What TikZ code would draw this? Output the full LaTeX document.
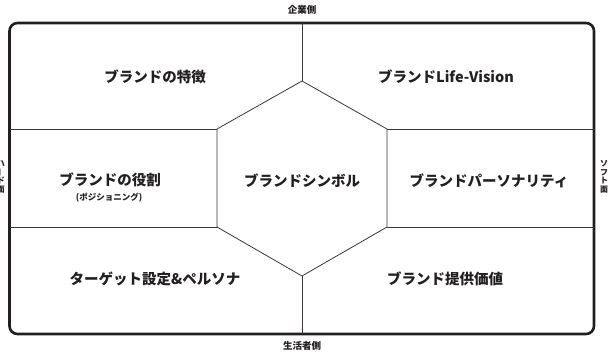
\documentclass[tikz,border=0pt]{standalone}
\usepackage{fontspec}
\setmainfont{Noto Sans CJK JP}
\newfontfamily\cjk{Noto Sans CJK JP}
\definecolor{ink}{HTML}{231F20}
\definecolor{thin}{HTML}{3A3637}
\begin{document}
\begin{tikzpicture}[x=1pt,y=-1pt,
  frame/.style={line width=2.6pt,draw=ink,rounded corners=8pt},
  divider/.style={line width=0.8pt,draw=thin},
  biglabel/.style={font=\cjk\bfseries\fontsize{14.5}{16}\selectfont,text=ink,inner sep=0pt},
  smalllabel/.style={font=\cjk\bfseries\fontsize{8.5}{10}\selectfont,text=ink,inner sep=0pt},
  sidelabel/.style={font=\cjk\bfseries\fontsize{9.5}{11}\selectfont,text=ink,inner sep=0pt},
  vlabel/.style={font=\cjk\bfseries\fontsize{8}{8.6}\selectfont,text=ink,inner sep=0pt,align=center}]
\useasboundingbox (0,0) rectangle (610,356);
\path[clip] (0,0) rectangle (610,356);
% frame
\coordinate (TL) at (9.5,23);
\coordinate (BR) at (594,334);
\draw[frame] (TL) rectangle (BR);
% frame anchor points
\coordinate (topmid) at (302,23);
\coordinate (botmid) at (302,334);
\coordinate (leftup) at (9.5,129);
\coordinate (leftlo) at (9.5,227);
\coordinate (rightup) at (594,129);
\coordinate (rightlo) at (594,227);
% hexagon vertices
\coordinate (hT) at (302,81);
\coordinate (hUL) at (217,129);
\coordinate (hUR) at (387,129);
\coordinate (hLL) at (217,227);
\coordinate (hLR) at (387,227);
\coordinate (hB) at (302,276);
\draw[divider] (hT) -- (hUR) -- (hLR) -- (hB) -- (hLL) -- (hUL) -- cycle;
\draw[divider] (topmid) -- (hT);
\draw[divider] (hB) -- (botmid);
\draw[divider] (leftup) -- (hUL);
\draw[divider] (leftlo) -- (hLL);
\draw[divider] (hUR) -- (rightup);
\draw[divider] (hLR) -- (rightlo);
% labels
\node[biglabel] (tok) at (155,77) {ブランドの特徴};
\node[biglabel] (life) at (446,77) {ブランドLife-Vision};
\node[biglabel] (yak) at (110,180) {ブランドの役割};
\node[smalllabel] (pos) at (109,198) {(ポジショニング)};
\node[biglabel] (sym) at (302,181) {ブランドシンボル};
\node[biglabel] (per) at (489,181) {ブランドパーソナリティ};
\node[biglabel] (tgt) at (155,279) {ターゲット設定\&ペルソナ};
\node[biglabel] (val) at (445,279) {ブランド提供価値};
\node[sidelabel] (corp) at (302,10) {企業側};
\node[sidelabel] (cons) at (302,346) {生活者側};
\node[vlabel] (soft) at (604,177) {ソ\\フ\\ト\\面};
\node[vlabel] (hard) at (1,177) {ハ\\︱\\ド\\面};
\end{tikzpicture}
\end{document}
